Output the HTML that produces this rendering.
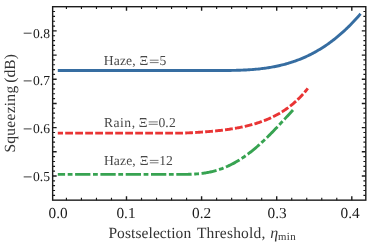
<!DOCTYPE html>
<html><head><meta charset="utf-8">
<style>
html,body{margin:0;padding:0;background:#fff;}
body{width:374px;height:243px;overflow:hidden;font-family:"Liberation Serif",serif;}
svg{display:block;will-change:transform}
text{font-family:"Liberation Serif",serif;text-rendering:geometricPrecision;}
</style></head><body>
<svg width="374" height="243" viewBox="0 0 374 243">
<rect width="374" height="243" fill="#fff"/>
<!-- curves -->
<polyline points="57.80,70.50 58.97,70.50 60.14,70.50 61.31,70.50 62.48,70.50 63.65,70.50 64.81,70.50 65.98,70.50 67.15,70.50 68.32,70.50 69.49,70.50 70.66,70.50 71.83,70.50 73.00,70.50 74.17,70.50 75.34,70.50 76.51,70.50 77.67,70.50 78.84,70.50 80.01,70.50 81.18,70.50 82.35,70.50 83.52,70.50 84.69,70.50 85.86,70.50 87.03,70.50 88.20,70.50 89.37,70.50 90.54,70.50 91.70,70.50 92.87,70.50 94.04,70.50 95.21,70.50 96.38,70.50 97.55,70.50 98.72,70.50 99.89,70.50 101.06,70.50 102.23,70.50 103.40,70.50 104.56,70.50 105.73,70.50 106.90,70.50 108.07,70.50 109.24,70.50 110.41,70.50 111.58,70.50 112.75,70.50 113.92,70.50 115.09,70.50 116.26,70.50 117.42,70.50 118.59,70.50 119.76,70.50 120.93,70.50 122.10,70.50 123.27,70.50 124.44,70.50 125.61,70.50 126.78,70.50 127.95,70.50 129.12,70.50 130.28,70.50 131.45,70.50 132.62,70.50 133.79,70.50 134.96,70.50 136.13,70.50 137.30,70.50 138.47,70.50 139.64,70.50 140.81,70.50 141.98,70.50 143.15,70.50 144.31,70.50 145.48,70.50 146.65,70.50 147.82,70.50 148.99,70.50 150.16,70.50 151.33,70.50 152.50,70.50 153.67,70.50 154.84,70.50 156.01,70.50 157.17,70.50 158.34,70.50 159.51,70.50 160.68,70.50 161.85,70.50 163.02,70.50 164.19,70.50 165.36,70.50 166.53,70.50 167.70,70.50 168.87,70.50 170.03,70.50 171.20,70.50 172.37,70.50 173.54,70.50 174.71,70.50 175.88,70.50 177.05,70.50 178.22,70.50 179.39,70.50 180.56,70.50 181.73,70.50 182.89,70.50 184.06,70.50 185.23,70.50 186.40,70.50 187.57,70.50 188.74,70.50 189.91,70.50 191.08,70.50 192.25,70.50 193.42,70.50 194.59,70.50 195.76,70.50 196.92,70.50 198.09,70.50 199.26,70.50 200.43,70.50 201.60,70.50 202.77,70.50 203.94,70.50 205.11,70.50 206.28,70.50 207.45,70.50 208.62,70.50 209.78,70.50 210.95,70.50 212.12,70.50 213.29,70.50 214.46,70.50 215.63,70.50 216.80,70.50 217.97,70.50 219.14,70.50 220.31,70.50 221.48,70.50 222.64,70.49 223.81,70.49 224.98,70.48 226.15,70.47 227.32,70.47 228.49,70.45 229.66,70.44 230.83,70.43 232.00,70.41 233.17,70.39 234.34,70.37 235.51,70.34 236.67,70.31 237.84,70.28 239.01,70.25 240.18,70.21 241.35,70.16 242.52,70.12 243.69,70.07 244.86,70.01 246.03,69.95 247.20,69.89 248.37,69.82 249.53,69.74 250.70,69.66 251.87,69.58 253.04,69.49 254.21,69.39 255.38,69.29 256.55,69.18 257.72,69.07 258.89,68.95 260.06,68.82 261.23,68.68 262.39,68.54 263.56,68.39 264.73,68.24 265.90,68.08 267.07,67.91 268.24,67.73 269.41,67.54 270.58,67.34 271.75,67.14 272.92,66.93 274.09,66.71 275.25,66.48 276.42,66.24 277.59,65.99 278.76,65.74 279.93,65.47 281.10,65.19 282.27,64.91 283.44,64.61 284.61,64.30 285.78,63.98 286.95,63.66 288.12,63.32 289.28,62.97 290.45,62.60 291.62,62.23 292.79,61.85 293.96,61.45 295.13,61.04 296.30,60.62 297.47,60.19 298.64,59.75 299.81,59.29 300.98,58.82 302.14,58.34 303.31,57.84 304.48,57.33 305.65,56.81 306.82,56.27 307.99,55.72 309.16,55.16 310.33,54.58 311.50,53.98 312.67,53.38 313.84,52.75 315.00,52.12 316.17,51.47 317.34,50.80 318.51,50.11 319.68,49.42 320.85,48.70 322.02,47.97 323.19,47.23 324.36,46.46 325.53,45.68 326.70,44.89 327.86,44.07 329.03,43.24 330.20,42.40 331.37,41.53 332.54,40.65 333.71,39.75 334.88,38.83 336.05,37.90 337.22,36.95 338.39,35.97 339.56,34.98 340.73,33.97 341.89,32.94 343.06,31.90 344.23,30.83 345.40,29.74 346.57,28.64 347.74,27.51 348.91,26.37 350.08,25.20 351.25,24.01 352.42,22.81 353.59,21.58 354.75,20.33 355.92,19.06 357.09,17.77 358.26,16.46 359.43,15.12 360.60,13.77" fill="none" stroke="#366da1" stroke-width="2.9" stroke-linejoin="round"/>
<polyline points="57.80,133.15 58.77,133.15 59.73,133.15 60.70,133.15 61.66,133.15 62.63,133.15 63.59,133.15 64.56,133.15 65.52,133.15 66.49,133.15 67.45,133.15 68.42,133.15 69.38,133.15 70.35,133.15 71.31,133.15 72.28,133.15 73.24,133.15 74.21,133.15 75.17,133.15 76.14,133.15 77.11,133.15 78.07,133.15 79.04,133.15 80.00,133.15 80.97,133.15 81.93,133.15 82.90,133.15 83.86,133.15 84.83,133.15 85.79,133.15 86.76,133.15 87.72,133.15 88.69,133.15 89.65,133.15 90.62,133.15 91.58,133.15 92.55,133.15 93.51,133.15 94.48,133.15 95.44,133.15 96.41,133.15 97.38,133.15 98.34,133.15 99.31,133.15 100.27,133.15 101.24,133.15 102.20,133.15 103.17,133.15 104.13,133.15 105.10,133.15 106.06,133.15 107.03,133.15 107.99,133.15 108.96,133.15 109.92,133.15 110.89,133.15 111.85,133.15 112.82,133.15 113.78,133.15 114.75,133.15 115.72,133.15 116.68,133.15 117.65,133.15 118.61,133.15 119.58,133.15 120.54,133.15 121.51,133.15 122.47,133.15 123.44,133.15 124.40,133.15 125.37,133.15 126.33,133.15 127.30,133.15 128.26,133.15 129.23,133.15 130.19,133.15 131.16,133.15 132.12,133.15 133.09,133.15 134.05,133.15 135.02,133.15 135.99,133.15 136.95,133.15 137.92,133.15 138.88,133.15 139.85,133.15 140.81,133.15 141.78,133.15 142.74,133.15 143.71,133.15 144.67,133.15 145.64,133.15 146.60,133.15 147.57,133.15 148.53,133.15 149.50,133.15 150.46,133.15 151.43,133.15 152.39,133.15 153.36,133.15 154.33,133.15 155.29,133.15 156.26,133.15 157.22,133.15 158.19,133.15 159.15,133.15 160.12,133.15 161.08,133.15 162.05,133.15 163.01,133.15 163.98,133.15 164.94,133.15 165.91,133.15 166.87,133.15 167.84,133.15 168.80,133.15 169.77,133.15 170.73,133.15 171.70,133.15 172.66,133.15 173.63,133.15 174.60,133.15 175.56,133.15 176.53,133.15 177.49,133.15 178.46,133.15 179.42,133.15 180.39,133.15 181.35,133.15 182.32,133.13 183.28,133.09 184.25,133.05 185.21,133.01 186.18,132.97 187.14,132.92 188.11,132.88 189.07,132.83 190.04,132.78 191.00,132.73 191.97,132.68 192.94,132.63 193.90,132.58 194.87,132.52 195.83,132.47 196.80,132.41 197.76,132.35 198.73,132.29 199.69,132.23 200.66,132.16 201.62,132.10 202.59,132.03 203.55,131.96 204.52,131.89 205.48,131.82 206.45,131.74 207.41,131.67 208.38,131.59 209.34,131.51 210.31,131.42 211.27,131.34 212.24,131.25 213.21,131.16 214.17,131.07 215.14,130.97 216.10,130.87 217.07,130.77 218.03,130.67 219.00,130.56 219.96,130.46 220.93,130.34 221.89,130.23 222.86,130.11 223.82,129.99 224.79,129.87 225.75,129.74 226.72,129.61 227.68,129.47 228.65,129.34 229.61,129.20 230.58,129.05 231.55,128.90 232.51,128.75 233.48,128.59 234.44,128.43 235.41,128.26 236.37,128.09 237.34,127.92 238.30,127.74 239.27,127.55 240.23,127.36 241.20,127.17 242.16,126.97 243.13,126.77 244.09,126.56 245.06,126.34 246.02,126.12 246.99,125.89 247.95,125.66 248.92,125.42 249.88,125.17 250.85,124.92 251.82,124.66 252.78,124.39 253.75,124.11 254.71,123.83 255.68,123.54 256.64,123.25 257.61,122.94 258.57,122.63 259.54,122.31 260.50,121.98 261.47,121.64 262.43,121.29 263.40,120.93 264.36,120.57 265.33,120.19 266.29,119.80 267.26,119.41 268.22,119.00 269.19,118.58 270.16,118.15 271.12,117.71 272.09,117.26 273.05,116.79 274.02,116.31 274.98,115.82 275.95,115.32 276.91,114.80 277.88,114.27 278.84,113.72 279.81,113.16 280.77,112.59 281.74,112.00 282.70,111.39 283.67,110.77 284.63,110.13 285.60,109.47 286.56,108.80 287.53,108.11 288.49,107.40 289.46,106.67 290.43,105.92 291.39,105.15 292.36,104.36 293.32,103.55 294.29,102.71 295.25,101.86 296.22,100.98 297.18,100.08 298.15,99.15 299.11,98.20 300.08,97.23 301.04,96.22 302.01,95.19 302.97,94.14 303.94,93.05 304.90,91.94 305.87,90.79 306.83,89.62 307.80,88.41" fill="none" stroke="#e93434" stroke-width="2.9" stroke-dasharray="7.8 2.2" stroke-dashoffset="2.6" stroke-linejoin="round"/>
<polyline points="57.80,174.40 58.71,174.40 59.62,174.40 60.52,174.40 61.43,174.40 62.34,174.40 63.25,174.40 64.16,174.40 65.06,174.40 65.97,174.40 66.88,174.40 67.79,174.40 68.70,174.40 69.61,174.40 70.51,174.40 71.42,174.40 72.33,174.40 73.24,174.40 74.15,174.40 75.05,174.40 75.96,174.40 76.87,174.40 77.78,174.40 78.69,174.40 79.59,174.40 80.50,174.40 81.41,174.40 82.32,174.40 83.23,174.40 84.14,174.40 85.04,174.40 85.95,174.40 86.86,174.40 87.77,174.40 88.68,174.40 89.58,174.40 90.49,174.40 91.40,174.40 92.31,174.40 93.22,174.40 94.12,174.40 95.03,174.40 95.94,174.40 96.85,174.40 97.76,174.40 98.66,174.40 99.57,174.40 100.48,174.40 101.39,174.40 102.30,174.40 103.21,174.40 104.11,174.40 105.02,174.40 105.93,174.40 106.84,174.40 107.75,174.40 108.65,174.40 109.56,174.40 110.47,174.40 111.38,174.40 112.29,174.40 113.19,174.40 114.10,174.40 115.01,174.40 115.92,174.40 116.83,174.40 117.74,174.40 118.64,174.40 119.55,174.40 120.46,174.40 121.37,174.40 122.28,174.40 123.18,174.40 124.09,174.40 125.00,174.40 125.91,174.40 126.82,174.40 127.72,174.40 128.63,174.40 129.54,174.40 130.45,174.40 131.36,174.40 132.26,174.40 133.17,174.40 134.08,174.40 134.99,174.40 135.90,174.40 136.81,174.40 137.71,174.40 138.62,174.40 139.53,174.40 140.44,174.40 141.35,174.40 142.25,174.40 143.16,174.40 144.07,174.40 144.98,174.40 145.89,174.40 146.79,174.40 147.70,174.40 148.61,174.40 149.52,174.40 150.43,174.40 151.34,174.40 152.24,174.40 153.15,174.40 154.06,174.40 154.97,174.40 155.88,174.40 156.78,174.40 157.69,174.40 158.60,174.40 159.51,174.40 160.42,174.40 161.32,174.40 162.23,174.40 163.14,174.40 164.05,174.40 164.96,174.40 165.86,174.40 166.77,174.40 167.68,174.40 168.59,174.40 169.50,174.40 170.41,174.40 171.31,174.40 172.22,174.40 173.13,174.40 174.04,174.40 174.95,174.40 175.85,174.40 176.76,174.40 177.67,174.40 178.58,174.40 179.49,174.40 180.39,174.40 181.30,174.40 182.21,174.40 183.12,174.39 184.03,174.39 184.94,174.38 185.84,174.37 186.75,174.36 187.66,174.34 188.57,174.32 189.48,174.29 190.38,174.27 191.29,174.23 192.20,174.19 193.11,174.15 194.02,174.10 194.92,174.05 195.83,173.99 196.74,173.92 197.65,173.85 198.56,173.77 199.46,173.68 200.37,173.58 201.28,173.48 202.19,173.37 203.10,173.25 204.01,173.12 204.91,172.99 205.82,172.84 206.73,172.69 207.64,172.52 208.55,172.35 209.45,172.17 210.36,171.98 211.27,171.77 212.18,171.56 213.09,171.34 213.99,171.11 214.90,170.86 215.81,170.61 216.72,170.34 217.63,170.07 218.54,169.78 219.44,169.48 220.35,169.17 221.26,168.85 222.17,168.52 223.08,168.17 223.98,167.82 224.89,167.45 225.80,167.07 226.71,166.68 227.62,166.28 228.52,165.86 229.43,165.43 230.34,164.99 231.25,164.54 232.16,164.07 233.06,163.60 233.97,163.11 234.88,162.61 235.79,162.09 236.70,161.57 237.61,161.03 238.51,160.48 239.42,159.92 240.33,159.35 241.24,158.76 242.15,158.16 243.05,157.55 243.96,156.93 244.87,156.30 245.78,155.65 246.69,154.99 247.59,154.32 248.50,153.64 249.41,152.95 250.32,152.25 251.23,151.53 252.14,150.81 253.04,150.07 253.95,149.32 254.86,148.57 255.77,147.80 256.68,147.02 257.58,146.23 258.49,145.43 259.40,144.62 260.31,143.80 261.22,142.98 262.12,142.14 263.03,141.29 263.94,140.44 264.85,139.57 265.76,138.70 266.66,137.82 267.57,136.93 268.48,136.04 269.39,135.13 270.30,134.22 271.21,133.30 272.11,132.38 273.02,131.45 273.93,130.51 274.84,129.56 275.75,128.61 276.65,127.66 277.56,126.70 278.47,125.73 279.38,124.77 280.29,123.79 281.19,122.82 282.10,121.84 283.01,120.85 283.92,119.87 284.83,118.88 285.74,117.89 286.64,116.89 287.55,115.90 288.46,114.91 289.37,113.91 290.28,112.92 291.18,111.92 292.09,110.93 293.00,109.94" fill="none" stroke="#37a351" stroke-width="2.9" stroke-dasharray="15.3 2.6 4.8 2.6" stroke-dashoffset="8.0" stroke-linejoin="round"/>
<!-- ticks -->
<path d="M126.50 200.15 v-4.0 M126.50 6.7 v4.0 M201.60 200.15 v-4.0 M201.60 6.7 v4.0 M276.70 200.15 v-4.0 M276.70 6.7 v4.0 M351.80 200.15 v-4.0 M351.80 6.7 v4.0 M52.65 176.00 h4.0 M365.8 176.00 h-4.0 M52.65 151.81 h4.0 M365.8 151.81 h-4.0 M52.65 127.63 h4.0 M365.8 127.63 h-4.0 M52.65 103.44 h4.0 M365.8 103.44 h-4.0 M52.65 79.26 h4.0 M365.8 79.26 h-4.0 M52.65 55.08 h4.0 M365.8 55.08 h-4.0 M52.65 30.89 h4.0 M365.8 30.89 h-4.0" stroke="#1c1c1c" stroke-width="1.4" fill="none"/>
<path d="M66.42 200.15 v-2.4 M66.42 6.7 v2.4 M81.44 200.15 v-2.4 M81.44 6.7 v2.4 M96.46 200.15 v-2.4 M96.46 6.7 v2.4 M111.48 200.15 v-2.4 M111.48 6.7 v2.4 M141.52 200.15 v-2.4 M141.52 6.7 v2.4 M156.54 200.15 v-2.4 M156.54 6.7 v2.4 M171.56 200.15 v-2.4 M171.56 6.7 v2.4 M186.58 200.15 v-2.4 M186.58 6.7 v2.4 M216.62 200.15 v-2.4 M216.62 6.7 v2.4 M231.64 200.15 v-2.4 M231.64 6.7 v2.4 M246.66 200.15 v-2.4 M246.66 6.7 v2.4 M261.68 200.15 v-2.4 M261.68 6.7 v2.4 M291.72 200.15 v-2.4 M291.72 6.7 v2.4 M306.74 200.15 v-2.4 M306.74 6.7 v2.4 M321.76 200.15 v-2.4 M321.76 6.7 v2.4 M336.78 200.15 v-2.4 M336.78 6.7 v2.4 M52.65 195.35 h2.4 M365.8 195.35 h-2.4 M52.65 190.51 h2.4 M365.8 190.51 h-2.4 M52.65 185.67 h2.4 M365.8 185.67 h-2.4 M52.65 180.84 h2.4 M365.8 180.84 h-2.4 M52.65 171.16 h2.4 M365.8 171.16 h-2.4 M52.65 166.33 h2.4 M365.8 166.33 h-2.4 M52.65 161.49 h2.4 M365.8 161.49 h-2.4 M52.65 156.65 h2.4 M365.8 156.65 h-2.4 M52.65 146.98 h2.4 M365.8 146.98 h-2.4 M52.65 142.14 h2.4 M365.8 142.14 h-2.4 M52.65 137.30 h2.4 M365.8 137.30 h-2.4 M52.65 132.47 h2.4 M365.8 132.47 h-2.4 M52.65 122.79 h2.4 M365.8 122.79 h-2.4 M52.65 117.96 h2.4 M365.8 117.96 h-2.4 M52.65 113.12 h2.4 M365.8 113.12 h-2.4 M52.65 108.28 h2.4 M365.8 108.28 h-2.4 M52.65 98.61 h2.4 M365.8 98.61 h-2.4 M52.65 93.77 h2.4 M365.8 93.77 h-2.4 M52.65 88.93 h2.4 M365.8 88.93 h-2.4 M52.65 84.10 h2.4 M365.8 84.10 h-2.4 M52.65 74.42 h2.4 M365.8 74.42 h-2.4 M52.65 69.59 h2.4 M365.8 69.59 h-2.4 M52.65 64.75 h2.4 M365.8 64.75 h-2.4 M52.65 59.91 h2.4 M365.8 59.91 h-2.4 M52.65 50.24 h2.4 M365.8 50.24 h-2.4 M52.65 45.40 h2.4 M365.8 45.40 h-2.4 M52.65 40.56 h2.4 M365.8 40.56 h-2.4 M52.65 35.73 h2.4 M365.8 35.73 h-2.4 M52.65 26.05 h2.4 M365.8 26.05 h-2.4 M52.65 21.22 h2.4 M365.8 21.22 h-2.4 M52.65 16.38 h2.4 M365.8 16.38 h-2.4 M52.65 11.54 h2.4 M365.8 11.54 h-2.4" stroke="#1c1c1c" stroke-width="1.15" fill="none"/>
<!-- frame -->
<rect x="52.65" y="6.7" width="313.15" height="193.45" fill="none" stroke="#1c1c1c" stroke-width="1.4"/>
<!-- annotations -->
<g fill="#484848" font-size="13.6">
<text x="103.7" y="65" style="letter-spacing:0.17px">Haze,</text>
<text x="139.45" y="65">Ξ</text>
<text x="159.4" y="65">5</text>
<text x="103.9" y="127" style="letter-spacing:0.52px">Rain,</text>
<text x="138.75" y="127">Ξ</text>
<text x="158.4" y="127" style="letter-spacing:0.15px">0.2</text>
<text x="103.9" y="165" style="letter-spacing:0.12px">Haze,</text>
<text x="139.7" y="165">Ξ</text>
<text x="159.3" y="165">12</text>
</g>
<path d="M149.8 60.2h8.8M149.8 62.6h8.8 M148.7 121.9h9.1M148.7 124.3h9.1 M149.8 160.4h8.7M149.8 162.8h8.7" stroke="#555" stroke-width="0.8" fill="none"/>
<!-- y tick labels -->
<g fill="#1a1a1a" font-size="13.6" text-anchor="end">
<text x="50.0" y="37.5">0.8</text>
<text x="50.0" y="85.0">0.7</text>
<text x="50.0" y="132.7">0.6</text>
<text x="50.0" y="181.0">0.5</text>
</g>
<path d="M23.7 33.2h7.9 M23.7 80.9h7.9 M23.7 128.9h7.9 M23.7 176.9h7.9" stroke="#1c1c1c" stroke-width="0.85" fill="none"/>
<!-- x tick labels -->
<g fill="#1a1a1a" font-size="15.3" text-anchor="middle">
<text x="58.05" y="218.3">0.0</text>
<text x="126" y="218.3">0.1</text>
<text x="201.65" y="218.3">0.2</text>
<text x="277.1" y="218.3">0.3</text>
<text x="350.05" y="218.3">0.4</text>
</g>
<!-- axis labels -->
<g fill="#333" font-size="15.5">
<text x="108.4" y="238" style="letter-spacing:0.08px">Postselection</text>
<text x="196.9" y="238" style="letter-spacing:0.19px">Threshold,</text>
<text x="270.3" y="238" font-style="italic" font-size="16">η</text>
<text x="277.9" y="240" font-size="10.8" style="letter-spacing:0.5px">min</text>
<text transform="translate(15.3 152.6) rotate(-90)" style="letter-spacing:0.27px">Squeezing</text>
<text transform="translate(15.3 82.85) rotate(-90)" style="letter-spacing:0.13px">(dB)</text>
</g>
</svg>
</body></html>
